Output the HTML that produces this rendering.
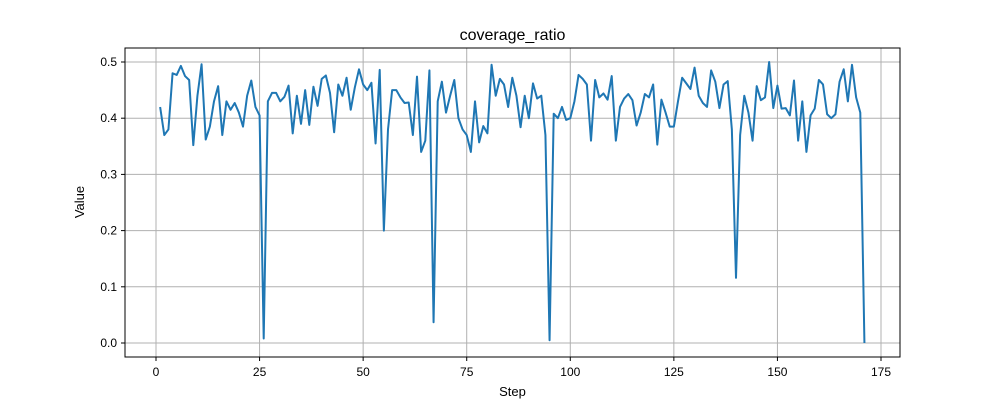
<!DOCTYPE html>
<html><head><meta charset="utf-8"><style>
body{margin:0;background:#fff;}
svg{display:block;font-family:"Liberation Sans","DejaVu Sans",sans-serif;}
</style></head><body>
<svg id="chart" width="1000" height="400">
<rect width="1000" height="400" fill="#fff"/>
<text x="512.5" y="40" text-anchor="middle" font-size="16">coverage_ratio</text>
<g id="grid"></g>
<g id="axes"></g>
<path id="line" fill="none" stroke="#1f77b4" stroke-width="2" stroke-linejoin="round"/>
<rect x="125" y="48" width="775" height="309" fill="none" stroke="#000" stroke-width="1"/>
<text x="512.5" y="396" text-anchor="middle" font-size="13">Step</text>
<text x="84" y="202" text-anchor="middle" font-size="13" transform="rotate(-90 84 202)">Value</text>
</svg>
<script>
const values=[0.42,0.37,0.38,0.48,0.477,0.493,0.475,0.468,0.352,0.44,0.496,0.362,0.385,0.43,0.457,0.37,0.43,0.415,0.427,0.41,0.385,0.44,0.467,0.42,0.405,0.008,0.43,0.445,0.445,0.43,0.438,0.458,0.373,0.44,0.39,0.45,0.388,0.456,0.422,0.47,0.476,0.445,0.375,0.46,0.44,0.472,0.415,0.455,0.487,0.46,0.45,0.463,0.355,0.486,0.2,0.38,0.45,0.45,0.437,0.427,0.428,0.37,0.474,0.34,0.36,0.485,0.037,0.43,0.465,0.41,0.44,0.468,0.4,0.38,0.37,0.34,0.43,0.357,0.386,0.373,0.495,0.44,0.47,0.46,0.42,0.472,0.44,0.384,0.44,0.4,0.462,0.435,0.44,0.37,0.005,0.408,0.4,0.42,0.397,0.4,0.43,0.477,0.47,0.46,0.36,0.468,0.437,0.444,0.433,0.475,0.36,0.42,0.435,0.443,0.432,0.387,0.41,0.443,0.437,0.46,0.353,0.433,0.41,0.385,0.385,0.43,0.472,0.462,0.452,0.49,0.44,0.427,0.42,0.485,0.465,0.418,0.46,0.466,0.38,0.116,0.37,0.44,0.41,0.36,0.457,0.432,0.437,0.5,0.418,0.458,0.417,0.418,0.405,0.467,0.36,0.43,0.34,0.405,0.417,0.468,0.46,0.407,0.4,0.407,0.465,0.487,0.43,0.495,0.437,0.41,0.0];
const xTicks=[0,25,50,75,100,125,150,175];
const yTicks=[0.0,0.1,0.2,0.3,0.4,0.5];
const yTickLabels=["0.0","0.1","0.2","0.3","0.4","0.5"];
const NS="http://www.w3.org/2000/svg";
const xs=s=>156+s*(725/175);
const ys=v=>343-v*562;
const grid=document.getElementById('grid'),axes=document.getElementById('axes');
function mk(tag,attrs,parent){const e=document.createElementNS(NS,tag);for(const k in attrs)e.setAttribute(k,attrs[k]);parent.appendChild(e);return e;}
xTicks.forEach(t=>{const x=xs(t);
 const g=mk('line',{x1:x,x2:x,y1:48,y2:357,stroke:'#b0b0b0','stroke-width':1},grid);
 
 
 const tk=mk('line',{x1:x,x2:x,y1:357,y2:361,stroke:'#000'},axes);
 
 
 const tx=mk('text',{x:x,y:376,'text-anchor':'middle','font-size':12},axes);tx.textContent=t;
 
 
});
yTicks.forEach((t,i)=>{const y=ys(t);
 const g=mk('line',{x1:125,x2:900,y1:y,y2:y,stroke:'#b0b0b0','stroke-width':1},grid);
 
 
 const tk=mk('line',{x1:121,x2:125,y1:y,y2:y,stroke:'#000'},axes);
 
 
 const tx=mk('text',{x:117,y:y+4,'text-anchor':'end','font-size':12},axes);tx.textContent=yTickLabels[i];
 
 
});
document.getElementById('line').setAttribute('d',values.map((v,i)=>(i?'L':'M')+xs(i+1).toFixed(2)+','+ys(v).toFixed(2)).join(''));
</script>
</body></html>
